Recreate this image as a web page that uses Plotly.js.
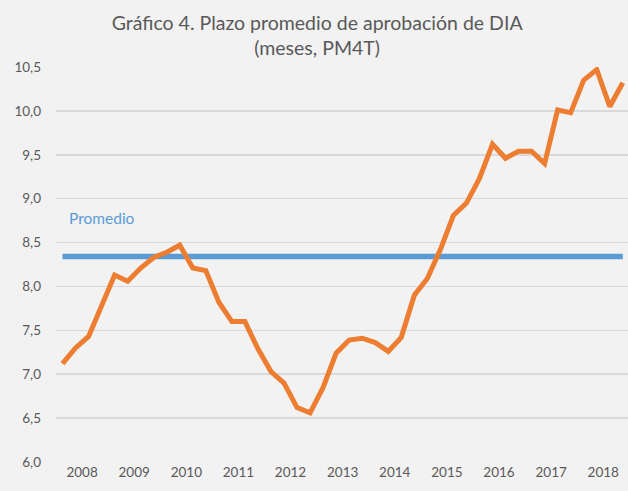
<!DOCTYPE html>
<html>
<head>
<meta charset="utf-8">
<script src="https://cdn.plot.ly/plotly-3.0.1.min.js"></script>
<style>html,body{margin:0;padding:0;background:#f2f2f2;}#chart{width:628px;height:491px;}</style>
</head>
<body>
<div id="chart"></div>
<script>
// Quarterly values 2008Q1 - 2018Q4 (meses, PM4T)
var quarters = [];
var years = ["2008","2009","2010","2011","2012","2013","2014","2015","2016","2017","2018"];
var plazo = [7.12, 7.30, 7.43, 7.79, 8.13, 8.06, 8.21, 8.33, 8.39, 8.47,
             8.21, 8.18, 7.82, 7.60, 7.60, 7.29, 7.03, 6.90, 6.62, 6.56,
             6.85, 7.24, 7.39, 7.41, 7.36, 7.26, 7.42, 7.90, 8.09, 8.42,
             8.81, 8.95, 9.23, 9.62, 9.46, 9.54, 9.54, 9.40, 10.01, 9.98,
             10.35, 10.47, 10.05, 10.32];
var promedioValue = 8.34;
var promedioLabel = "Promedio";
var titleText = "Gráfico 4. Plazo promedio de aprobación de DIA<br>(meses, PM4T)";

for (var i = 0; i < plazo.length; i++) quarters.push(i);
var promedio = plazo.map(function(){ return promedioValue; });
var yearTickVals = years.map(function(_, k){ return k * 4 + 1.5; });

var font = "Lato, 'Open Sans', sans-serif";

var traces = [
  {x: quarters, y: promedio, type: "scatter", mode: "lines",
   line: {color: "#5B9BD5", width: 5.5}, hoverinfo: "skip", showlegend: false},
  {x: quarters, y: plazo, type: "scatter", mode: "lines",
   line: {color: "#ED7D31", width: 5, shape: "linear"}, showlegend: false}
];

var layout = {
  width: 628, height: 491,
  paper_bgcolor: "#f2f2f2", plot_bgcolor: "#f2f2f2",
  separators: ",.",
  margin: {l: 56, r: 0, t: 67, b: 29},
  font: {family: font, color: "#595959", size: 13},
  title: {text: titleText, font: {family: font, size: 19.5, color: "#595959"},
          x: 0.505, xanchor: "center", y: 1 - 30/491, yanchor: "middle", yref: "container"},
  xaxis: {range: [-0.5, 43.4], tickmode: "array", tickvals: yearTickVals, ticktext: years,
          showgrid: false, zeroline: false, showline: false, ticks: "",
          tickfont: {size: 13.5, color: "#595959"}, fixedrange: true},
  yaxis: {range: [6, 10.5], dtick: 0.5, tick0: 6, tickformat: ".1f",
          showgrid: true, gridcolor: "#d9d9d9", gridwidth: 1.5, zeroline: false,
          showline: false, ticks: "", ticklabelstandoff: 14,
          tickfont: {size: 13.5, color: "#595959"}, fixedrange: true},
  annotations: [
    {text: promedioLabel, x: 0, y: promedioValue, xref: "x", yref: "y",
     xanchor: "left", yanchor: "middle", yshift: 39, xshift: 4, showarrow: false,
     font: {family: font, size: 15.5, color: "#5B9BD5"}}
  ]
};

Plotly.newPlot("chart", traces, layout, {displayModeBar: false, staticPlot: true});
</script>
</body>
</html>
